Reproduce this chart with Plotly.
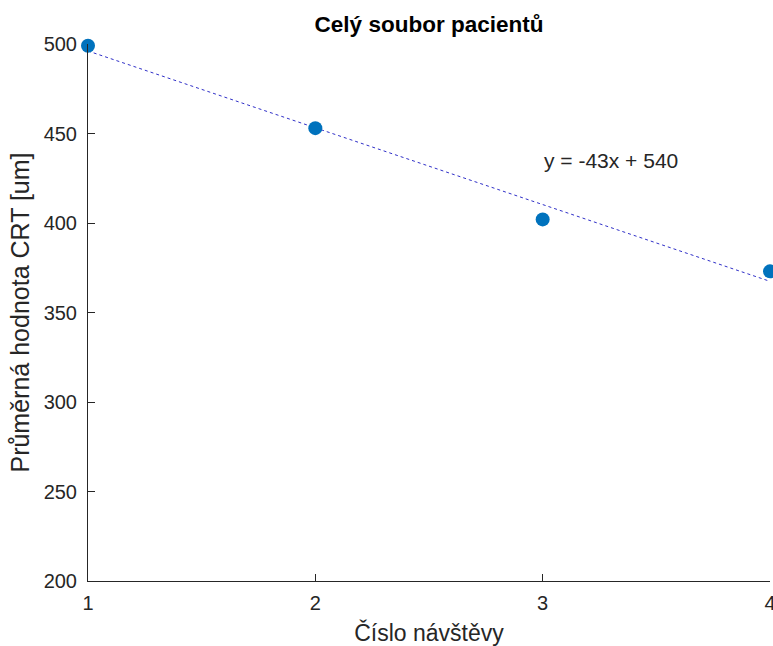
import numpy as np
import plotly.graph_objects as go

visits = [1, 2, 3, 4]
crt_mean = [499, 453, 402, 373]
x_ticks = [1, 2, 3, 4]
y_ticks = [200, 250, 300, 350, 400, 450, 500]
title_text = "Celý soubor pacientů"
x_label = "Číslo návštěvy"
y_label = "Průměrná hodnota CRT [um]"
eq_text = "y = -43x + 540"

slope, intercept = np.polyfit(visits, crt_mean, 1)
fit_x = [1, 4]
fit_y = [slope * v + intercept for v in fit_x]

font_family = "Liberation Sans, Arial, Helvetica, sans-serif"
txt = "#262626"

fig = go.Figure()
fig.add_trace(go.Scatter(
    x=fit_x, y=fit_y, mode="lines",
    line=dict(color="#3030c8", width=1, dash="dot"),
    cliponaxis=False, showlegend=False, hoverinfo="skip"))
fig.add_trace(go.Scatter(
    x=visits, y=crt_mean, mode="markers",
    marker=dict(color="#0072BD", size=14, line=dict(width=0)),
    cliponaxis=False, showlegend=False))

fig.add_annotation(x=2.995, y=435, text=eq_text, showarrow=False,
                   xanchor="left", yanchor="middle",
                   font=dict(family=font_family, size=21, color=txt))

fig.update_layout(
    width=773, height=646,
    margin=dict(l=88, r=3, t=44, b=65, autoexpand=False),
    paper_bgcolor="white", plot_bgcolor="white",
    font=dict(family=font_family, color=txt),
    title=dict(text="<b>" + title_text + "</b>", x=0.555, xanchor="center",
               y=1 - 24 / 646, yanchor="middle",
               font=dict(family=font_family, size=22.5, color="#000000")),
    xaxis=dict(range=[1, 4], tickvals=x_ticks, ticks="inside", ticklen=7,
               tickcolor=txt, tickwidth=1, showline=True, linecolor=txt,
               linewidth=1, showgrid=False, zeroline=False,
               tickfont=dict(size=20, color=txt), ticklabelstandoff=4,
               ticklabeloverflow="allow", automargin=False,
               title=dict(text=x_label, font=dict(size=23, color=txt),
                          standoff=11)),
    yaxis=dict(range=[200, 500], tickvals=y_ticks, ticks="inside", ticklen=7,
               tickcolor=txt, tickwidth=1, showline=True, linecolor=txt,
               linewidth=1, showgrid=False, zeroline=False,
               tickfont=dict(size=20, color=txt), ticklabelstandoff=6,
               ticklabeloverflow="allow", automargin=False,
               title=dict(text=y_label, font=dict(size=25, color=txt),
                          standoff=6)),
)

fig.write_html("out.html")
